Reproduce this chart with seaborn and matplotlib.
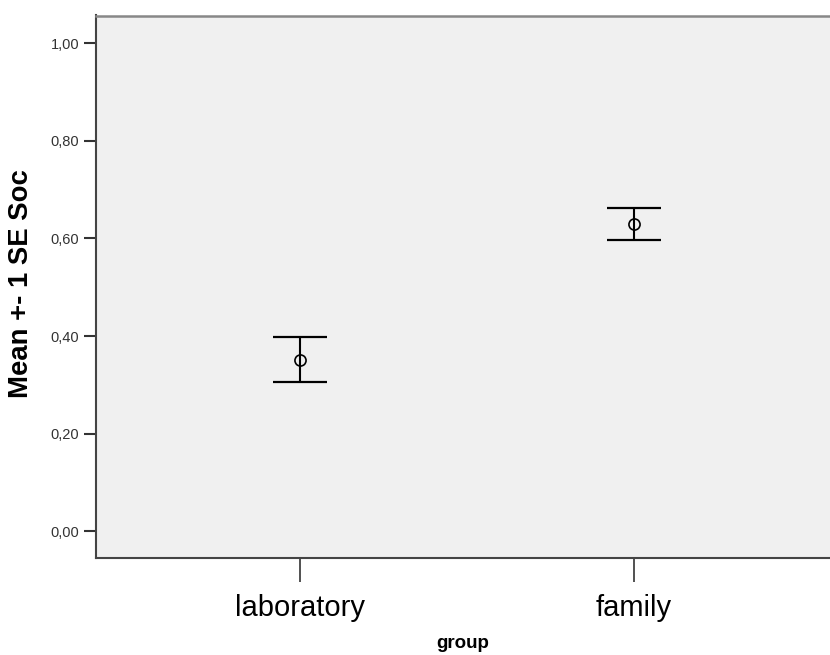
import matplotlib
matplotlib.use("Agg")
import matplotlib.pyplot as plt
import seaborn as sns
import numpy as np

groups = ["laboratory", "family"]
means = [0.351, 0.630]
lower = [0.305, 0.596]
upper = [0.399, 0.663]
yticks = [0.0, 0.2, 0.4, 0.6, 0.8, 1.0]
ytick_labels = ["0,00", "0,20", "0,40", "0,60", "0,80", "1,00"]

sns.set_style("white")
plt.rcParams["font.family"] = ["Liberation Sans", "DejaVu Sans"]

fig = plt.figure(figsize=(8.3, 6.55), dpi=100)
ax = fig.add_axes([96 / 830, 1 - 558 / 655, 1 - 96 / 830, (558 - 15.5) / 655])
ax.set_facecolor("#f0f0f0")

sns.pointplot(x=groups, y=means, ax=ax, linestyle="none", marker="o",
              markersize=8, markerfacecolor="none", markeredgecolor="black",
              markeredgewidth=1.2, color="black", errorbar=None)

xpos = np.arange(len(groups))
m = np.array(means)
err = np.vstack([m - np.array(lower), np.array(upper) - m])
ax.errorbar(xpos, m, yerr=err, fmt="none", ecolor="black", elinewidth=1.5,
            capsize=19.4, capthick=1.6, zorder=1)

ax.set_xlim(-0.611, 1.587)
ax.set_ylim(-0.055, 1.057)
ax.set_yticks(yticks)
ax.set_yticklabels(ytick_labels, fontsize=10.5, color="#333333")
ax.set_xticks(xpos)
ax.set_xticklabels(groups, fontsize=21, color="black")

ax.tick_params(axis="y", direction="out", length=9, width=1.5, color="#333333", pad=3, left=True)
ax.tick_params(axis="x", direction="out", length=17, width=1.2, color="#333333", pad=9, bottom=True)

for side in ["left", "bottom"]:
    ax.spines[side].set_visible(True)
    ax.spines[side].set_color("#444444")
    ax.spines[side].set_linewidth(1.5)
ax.spines["top"].set_visible(True)
ax.spines["top"].set_color("#888888")
ax.spines["top"].set_linewidth(1.8)
ax.spines["right"].set_visible(False)

ax.set_ylabel("Mean +- 1 SE Soc", fontsize=19.8, fontweight="bold", color="black")
ax.yaxis.set_label_coords((34 - 96) / 734, 0.505)
ax.set_xlabel("group", fontsize=13.5, fontweight="bold", color="black", labelpad=9)

fig.savefig("out.png", dpi=100)
